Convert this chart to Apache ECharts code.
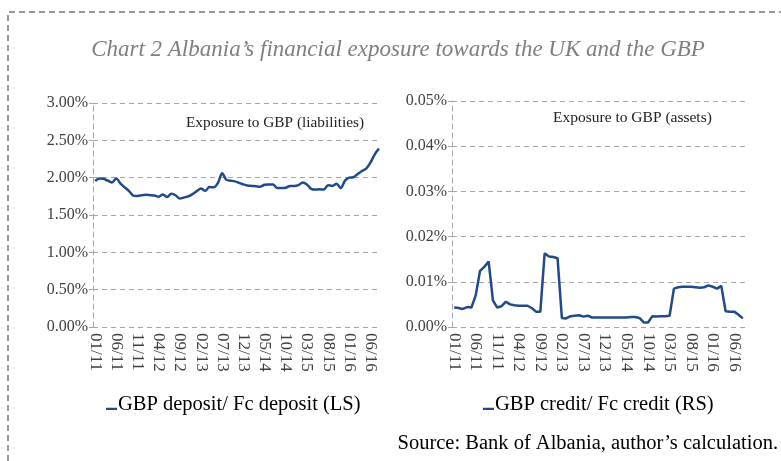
<!DOCTYPE html>
<html>
<head>
<meta charset="utf-8">
<script src="https://cdn.jsdelivr.net/npm/echarts@6/dist/echarts.min.js"></script>
<style>
  html, body { margin: 0; padding: 0; background: #fff; }
  #chart { width: 781px; height: 461px; }
</style>
</head>
<body>
<div id="chart"></div>
<script>
// Monthly, 01/11 .. 08/16
const months = [
  '01/11','02/11','03/11','04/11','05/11','06/11','07/11','08/11','09/11','10/11','11/11','12/11',
  '01/12','02/12','03/12','04/12','05/12','06/12','07/12','08/12','09/12','10/12','11/12','12/12',
  '01/13','02/13','03/13','04/13','05/13','06/13','07/13','08/13','09/13','10/13','11/13','12/13',
  '01/14','02/14','03/14','04/14','05/14','06/14','07/14','08/14','09/14','10/14','11/14','12/14',
  '01/15','02/15','03/15','04/15','05/15','06/15','07/15','08/15','09/15','10/15','11/15','12/15',
  '01/16','02/16','03/16','04/16','05/16','06/16','07/16','08/16'
];

// GBP deposit / FC deposit, %
const depositShare = [
  1.955, 1.99, 1.985, 1.96, 1.935, 1.99, 1.92, 1.87, 1.82, 1.76, 1.755, 1.765,
  1.77, 1.765, 1.76, 1.745, 1.775, 1.74, 1.785, 1.765, 1.72, 1.735, 1.75, 1.78,
  1.82, 1.855, 1.825, 1.875, 1.87, 1.93, 2.06, 1.97, 1.96, 1.95, 1.93, 1.91,
  1.895, 1.89, 1.885, 1.88, 1.905, 1.91, 1.91, 1.86, 1.86, 1.865, 1.89, 1.89,
  1.90, 1.935, 1.91, 1.85, 1.84, 1.845, 1.84, 1.90, 1.89, 1.92, 1.86, 1.96,
  2.00, 2.005, 2.05, 2.09, 2.12, 2.20, 2.31, 2.39
];

// GBP credit / FC credit, %
const creditShare = [
  0.0043, 0.0042, 0.0040, 0.0044, 0.0043, 0.0070, 0.0124, 0.0133, 0.0145, 0.0059, 0.0043, 0.0046,
  0.0056, 0.0050, 0.0048, 0.0047, 0.0047, 0.0047, 0.0042, 0.0034, 0.0034, 0.0163, 0.0156, 0.0155,
  0.0152, 0.0020, 0.0019, 0.0024, 0.0025, 0.0026, 0.0023, 0.0025, 0.0021, 0.0021, 0.0021, 0.0021,
  0.0021, 0.0021, 0.0021, 0.0021, 0.0021, 0.0022, 0.0022, 0.0020, 0.0010, 0.0010, 0.0024, 0.0023,
  0.0024, 0.0024, 0.0025, 0.0085, 0.0088, 0.0089, 0.0089, 0.0089, 0.0088, 0.0087, 0.0088, 0.0092,
  0.0089, 0.0085, 0.0091, 0.0035, 0.0034, 0.0034, 0.0027, 0.0019
];

const titleText = 'Chart 2 Albania\u2019s financial exposure towards the UK and the GBP';
const depositName = 'GBP deposit/ Fc deposit (LS)';
const creditName = 'GBP credit/ Fc credit (RS)';
const sourceText = 'Source: Bank of Albania, author\u2019s calculation.';

const serif = '"Liberation Serif", "DejaVu Serif", serif';
const lineColor = '#1f4a8c';
const gridColor = '#a6a6a6';

function yAxis(gridIndex, max, interval) {
  return {
    type: 'value',
    gridIndex: gridIndex,
    min: 0,
    max: max,
    interval: interval,
    axisLine: { show: true, lineStyle: { color: gridColor, type: [5, 4] } },
    axisTick: { show: true, length: 4, lineStyle: { color: gridColor } },
    splitLine: { show: true, lineStyle: { color: gridColor, type: [5, 4] } },
    axisLabel: {
      fontFamily: serif, fontSize: 16, color: '#404040', margin: 5,
      formatter: (v) => v.toFixed(2) + '%'
    }
  };
}

function xAxis(gridIndex) {
  return {
    type: 'category',
    gridIndex: gridIndex,
    data: months,
    boundaryGap: true,
    axisLine: { show: false },
    axisTick: { show: false },
    axisLabel: {
      interval: 4, rotate: -90, margin: 6,
      fontFamily: serif, fontSize: 17, color: '#404040'
    }
  };
}

const legendStyle = {
  icon: 'path://M0,0h0.01v0.01h-0.01z M0,8h10v2h-10z',
  itemWidth: 11, itemHeight: 11,
  textStyle: { fontFamily: serif, fontSize: 20.5, color: '#000', padding: [0, 0, 0, -4] }
};

const chart = echarts.init(document.getElementById('chart'));
chart.setOption({
  animation: false,
  title: {
    text: titleText,
    left: 393, top: 33, textAlign: 'center',
    textStyle: { fontFamily: serif, fontStyle: 'italic', fontWeight: 'normal', fontSize: 23, color: '#7f7f7f' }
  },
  grid: [
    { left: 93, top: 103, width: 288, height: 224 },
    { left: 452, top: 101, width: 293, height: 226 }
  ],
  xAxis: [xAxis(0), xAxis(1)],
  yAxis: [yAxis(0, 3, 0.5), yAxis(1, 0.05, 0.01)],
  legend: [
    Object.assign({ data: [depositName], left: 101, top: 389 }, legendStyle),
    Object.assign({ data: [creditName], left: 478, top: 389 }, legendStyle)
  ],
  graphic: [
    {
      type: 'polyline', silent: true,
      shape: { points: [[8, 461], [8, 12], [781, 12]] },
      style: { fill: null, stroke: '#333', lineWidth: 1, lineDash: [6, 4] }
    },
    {
      type: 'text', left: 186, top: 115,
      style: { text: 'Exposure to GBP (liabilities)', font: '15.3px ' + serif, fill: '#222' }
    },
    {
      type: 'text', left: 553, top: 110,
      style: { text: 'Exposure to GBP (assets)', font: '15.5px ' + serif, fill: '#222' }
    },
    {
      type: 'text', right: 3, top: 433,
      style: { text: sourceText, font: '20.5px ' + serif, fill: '#000' }
    }
  ],
  series: [
    {
      name: depositName, type: 'line', xAxisIndex: 0, yAxisIndex: 0,
      data: depositShare, showSymbol: false, smooth: 0.3,
      lineStyle: { color: lineColor, width: 2.5 }, itemStyle: { color: lineColor }
    },
    {
      name: creditName, type: 'line', xAxisIndex: 1, yAxisIndex: 1,
      data: creditShare, showSymbol: false,
      lineStyle: { color: lineColor, width: 2.5 }, itemStyle: { color: lineColor }
    }
  ]
});
</script>
</body>
</html>
